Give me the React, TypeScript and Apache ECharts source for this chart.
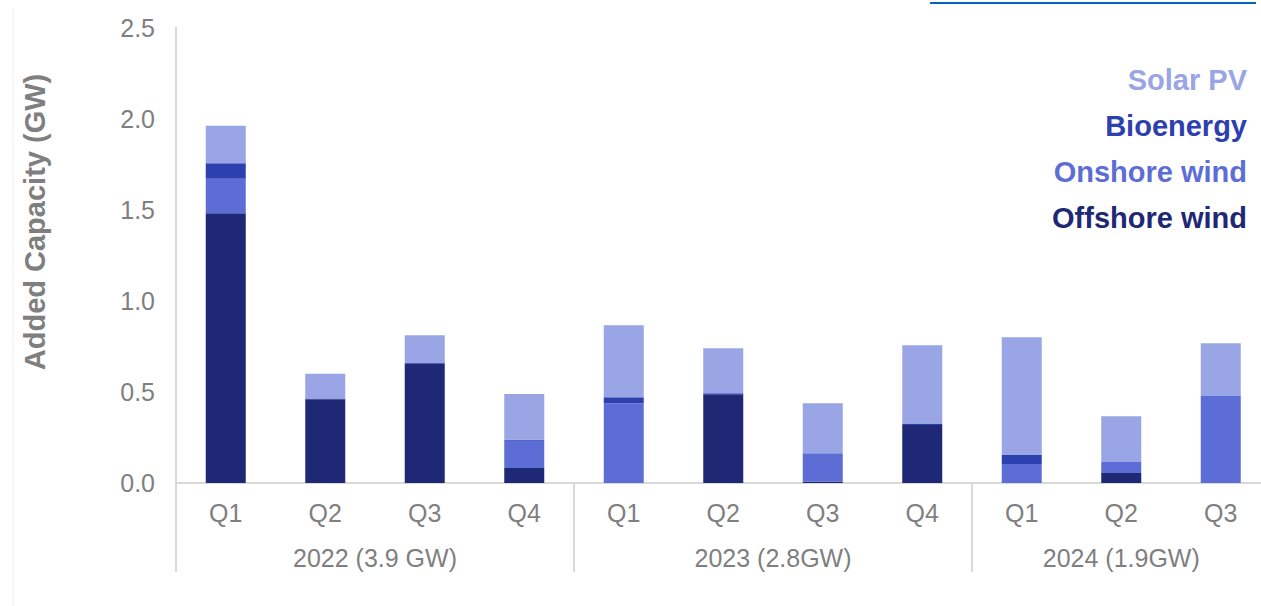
import React, { useEffect, useRef } from "react";
import * as echarts from "echarts";

const categories = ["Q1", "Q2", "Q3", "Q4", "Q1", "Q2", "Q3", "Q4", "Q1", "Q2", "Q3"];
const offshoreWind = [1.48, 0.46, 0.655, 0.082, 0, 0.487, 0.008, 0.318, 0, 0.055, 0];
const onshoreWind = [0.19, 0, 0, 0.15, 0.438, 0, 0.155, 0, 0.104, 0.06, 0.478];
const bioenergy = [0.085, 0.004, 0.006, 0.006, 0.033, 0.005, 0, 0.008, 0.05, 0, 0];
const solarPV = [0.206, 0.135, 0.15, 0.25, 0.395, 0.248, 0.275, 0.43, 0.646, 0.251, 0.289];
const years = ["2022 (3.9 GW)", "2023 (2.8GW)", "2024 (1.9GW)"];
const yearSpans = [4, 4, 3];
const yTicks = [0, 0.5, 1, 1.5, 2, 2.5];

const colors = {
  offshore: "#1e2875",
  onshore: "#5c6ed5",
  bio: "#2c40b0",
  solar: "#99a5e5",
};

const FONT = "'Liberation Sans', Arial, sans-serif";
const GRAY = "#7f7f7f";
const LINE = "#d9d9d9";
const W = 1290;

export default function App() {
  const ref = useRef<HTMLDivElement>(null);
  useEffect(() => {
    if (!ref.current) return;
    const chart = echarts.init(ref.current, null, { renderer: "svg" });

    const bounds: number[] = [0];
    yearSpans.forEach((s) => bounds.push(bounds[bounds.length - 1] + s));
    const centres = yearSpans.map((s, i) => bounds[i] + s / 2);

    const series = [
      { name: "Offshore wind", data: offshoreWind, c: colors.offshore },
      { name: "Onshore wind", data: onshoreWind, c: colors.onshore },
      { name: "Bioenergy", data: bioenergy, c: colors.bio },
      { name: "Solar PV", data: solarPV, c: colors.solar },
    ].map((s) => ({
      name: s.name,
      type: "bar",
      stack: "total",
      xAxisIndex: 0,
      yAxisIndex: 0,
      barWidth: 40,
      data: s.data,
      itemStyle: { color: s.c },
    }));

    const legendOrder = [
      { name: "Solar PV", c: colors.solar },
      { name: "Bioenergy", c: colors.bio },
      { name: "Onshore wind", c: colors.onshore },
      { name: "Offshore wind", c: colors.offshore },
    ];

    chart.setOption({
      animation: false,
      backgroundColor: "#ffffff",
      textStyle: { fontFamily: FONT },
      grid: { left: 176, top: 27.5, width: 11 * 99.5, height: 455.5, containLabel: false },
      legend: {
        orient: "vertical",
        right: W - 1261 + 4,
        top: 60,
        itemGap: 17,
        icon: "none",
        itemWidth: 0,
        itemHeight: 0,
        align: "right",
        selectedMode: false,
        data: legendOrder.map((l) => ({
          name: l.name,
          textStyle: { color: l.c, fontSize: 29, fontWeight: "bold", fontFamily: FONT },
        })),
      },
      xAxis: [
        {
          type: "category",
          data: categories,
          axisLine: { show: true, lineStyle: { color: LINE, width: 2 } },
          axisTick: { show: false },
          axisLabel: { color: GRAY, fontSize: 25, margin: 17, fontFamily: FONT, interval: 0 },
          splitLine: { show: false },
        },
        {
          type: "value",
          position: "bottom",
          min: 0,
          max: bounds[bounds.length - 1],
          axisLine: { show: false },
          splitLine: { show: false },
          axisTick: {
            show: true,
            customValues: bounds,
            length: 89,
            lineStyle: { color: LINE, width: 2 },
          },
          axisLabel: {
            show: true,
            customValues: centres,
            color: GRAY,
            fontSize: 25,
            margin: 62,
            fontFamily: FONT,
            formatter: (v: number) => {
              const i = centres.findIndex((c) => Math.abs(c - v) < 1e-6);
              return i >= 0 ? years[i] : "";
            },
          },
        },
      ],
      yAxis: {
        type: "value",
        min: yTicks[0],
        max: yTicks[yTicks.length - 1],
        interval: 0.5,
        axisLine: { show: true, lineStyle: { color: LINE, width: 2 } },
        axisTick: { show: false },
        splitLine: { show: false },
        axisLabel: {
          color: GRAY,
          fontSize: 25,
          margin: 21,
          fontFamily: FONT,
          formatter: (v: number) => v.toFixed(1),
        },
      },
      graphic: [
        {
          type: "text",
          x: 35,
          y: 222,
          rotation: Math.PI / 2,
          style: {
            text: "Added Capacity (GW)",
            fill: GRAY,
            font: `bold 29px ${FONT}`,
            align: "center",
            verticalAlign: "middle",
          },
        },
        {
          type: "line",
          shape: { x1: 13, y1: 8, x2: 13, y2: 606 },
          style: { stroke: "#eeeeee", lineWidth: 1 },
        },
        {
          type: "line",
          shape: { x1: 930, y1: 3, x2: 1256, y2: 3 },
          style: { stroke: "#0563c1", lineWidth: 2 },
        },
      ],
      series,
    });
    return () => chart.dispose();
  }, []);
  return (
    <div
      ref={ref}
      style={{ position: "fixed", left: 0, top: 0, width: W, height: 606, background: "#fff" }}
    />
  );
}
